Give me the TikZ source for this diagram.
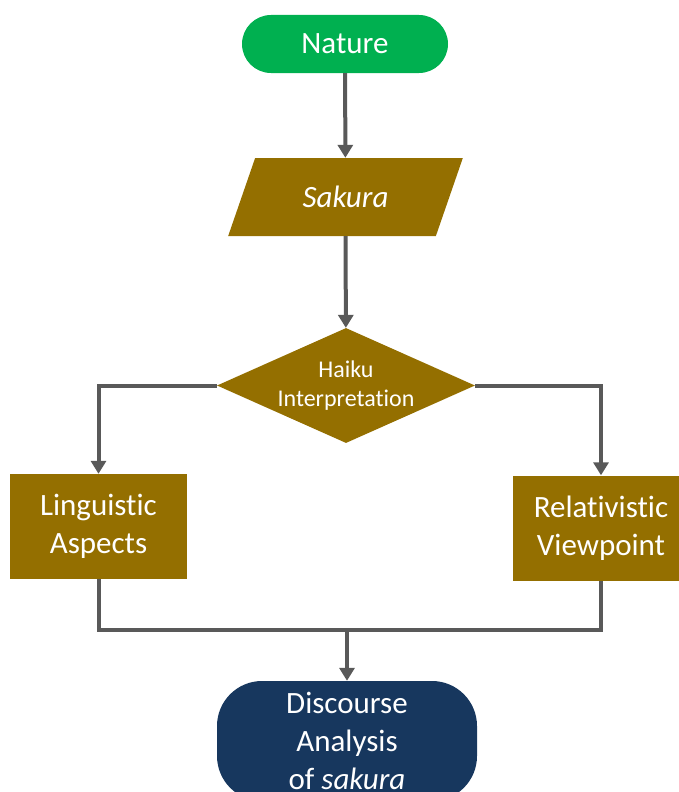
\documentclass[tikz,border=0pt]{standalone}
\usepackage{fontspec}
\setmainfont{Carlito}[Ligatures=NoCommon]
\usetikzlibrary{arrows.meta, positioning, shapes.geometric}
\definecolor{termgreen}{HTML}{00B050}
\definecolor{ochre}{HTML}{946F00}
\definecolor{navyblue}{HTML}{17375E}
\definecolor{linegray}{HTML}{595959}

\begin{document}
\begin{tikzpicture}[
    x=1pt, y=-1pt,
    terminal/.style={draw=none, fill=termgreen, rounded corners=29pt, minimum width=206pt, minimum height=58pt, text=white, font=\fontsize{31}{38}\selectfont},
    io/.style={trapezium, trapezium left angle=59.5, trapezium right angle=120.5, trapezium stretches=true, fill=ochre, minimum width=235pt, minimum height=78pt, inner sep=0pt, text=white, font=\fontsize{31}{38}\selectfont\itshape},
    decision/.style={diamond, fill=ochre, aspect=2.2, minimum width=258pt, minimum height=115pt, inner sep=0pt, align=center, text=white, font=\fontsize{24}{29}\selectfont},
    block/.style={fill=ochre, minimum width=177pt, minimum height=105pt, align=center, text=white, font=\fontsize{31}{38}\selectfont},
    ending/.style={fill=navyblue, rounded corners=45pt, minimum width=260pt, minimum height=120pt, align=center, text=white, font=\fontsize{31}{38}\selectfont},
    arr/.style={line width=4pt, draw=linegray, -{Triangle[length=13pt, width=15pt]}},
    line/.style={line width=4pt, draw=linegray},
]
\useasboundingbox (0,0) rectangle (679,792);
\node[terminal] (nature) at (345,44) {Nature};
\node[io] (sakura) at (345.5,197) {Sakura};
\node[decision] (haiku) at (346,385.5) {Haiku\\Interpretation};
\node[block] (ling) at (98.5,526.5) {Linguistic\\Aspects};
\node[block] (rel) at (601,528) {Relativistic\\Viewpoint};
\node[ending] (disc) at (347,741) {Discourse\\Analysis\\of \textit{sakura}};
\coordinate (join) at (347,630);

\draw[arr] (nature) -- (sakura);
\draw[arr] (sakura) -- (haiku);
\draw[arr] (haiku.west) -| (ling.north);
\draw[arr] (haiku.east) -| (rel.north);
\draw[line] (ling.south) |- (join) -| (rel.south);
\draw[arr] (join) -- (disc);
\end{tikzpicture}
\end{document}
